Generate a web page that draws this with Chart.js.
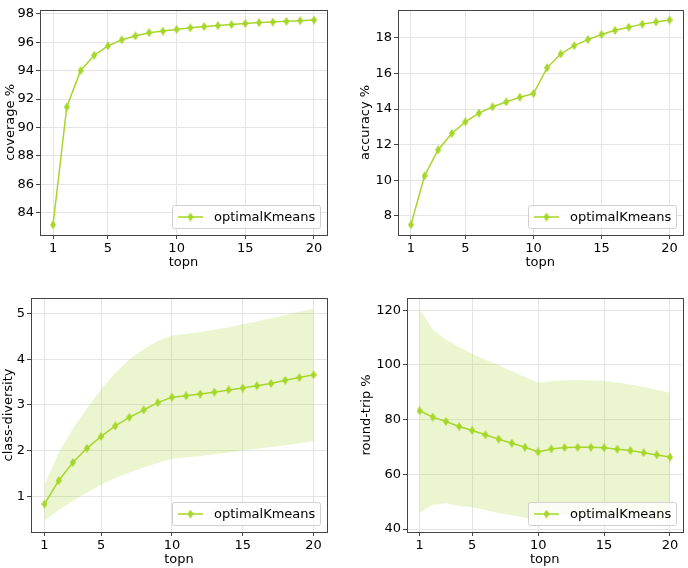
<!DOCTYPE html>
<html>
<head>
<meta charset="utf-8">
<script src="https://cdn.jsdelivr.net/npm/chart.js@4/dist/chart.umd.min.js"></script>
<style>
  html, body { margin: 0; padding: 0; background: #fff; }
  #wrap { position: relative; width: 688px; height: 568px; }
  .cell { position: absolute; width: 344px; height: 284px; }
</style>
</head>
<body>
<div id="wrap">
  <div class="cell" style="left:0;top:0"><canvas id="c1" width="344" height="284"></canvas></div>
  <div class="cell" style="left:344px;top:0"><canvas id="c2" width="344" height="284"></canvas></div>
  <div class="cell" style="left:0;top:284px"><canvas id="c3" width="344" height="284"></canvas></div>
  <div class="cell" style="left:344px;top:284px"><canvas id="c4" width="344" height="284"></canvas></div>
</div>
<script>
// values
const topn = [1, 2, 3, 4, 5, 6, 7, 8, 9, 10, 11, 12, 13, 14, 15, 16, 17, 18, 19, 20];
const xTicks = [1, 5, 10, 15, 20];
const seriesName = 'optimalKmeans';

const coverage = [83.14, 91.44, 94.0, 95.09, 95.75, 96.18, 96.45, 96.68, 96.79, 96.91,
                  97.02, 97.11, 97.18, 97.25, 97.32, 97.39, 97.43, 97.48, 97.52, 97.57];
const coverageTicks = [84, 86, 88, 90, 92, 94, 96, 98];

const accuracy = [7.49, 10.24, 11.71, 12.63, 13.28, 13.77, 14.13, 14.4, 14.67, 14.87,
                  16.32, 17.1, 17.57, 17.91, 18.2, 18.43, 18.61, 18.78, 18.9, 19.01];
const accuracyTicks = [8, 10, 12, 14, 16, 18];

const diversityMean = [0.83, 1.34, 1.74, 2.05, 2.31, 2.54, 2.73, 2.89, 3.05, 3.17,
                       3.2, 3.24, 3.28, 3.33, 3.37, 3.42, 3.47, 3.54, 3.6, 3.66];
const diversityUpper = [1.25, 1.95, 2.48, 2.92, 3.35, 3.7, 4.0, 4.22, 4.4, 4.52,
                        4.56, 4.6, 4.65, 4.7, 4.77, 4.83, 4.9, 4.97, 5.04, 5.11];
const diversityLower = [0.45, 0.7, 0.9, 1.08, 1.25, 1.4, 1.52, 1.63, 1.73, 1.82,
                        1.85, 1.88, 1.92, 1.96, 2.0, 2.04, 2.08, 2.12, 2.16, 2.21];
const diversityTicks = [1, 2, 3, 4, 5];

const roundTripMean = [83.25, 80.93, 79.34, 77.5, 76.04, 74.45, 72.86, 71.4, 69.9, 68.2,
                       69.3, 69.8, 69.9, 69.9, 69.7, 69.2, 68.7, 67.9, 67.1, 66.3];
const roundTripUpper = [120.6, 113.0, 109.3, 106.6, 104.1, 101.9, 99.9, 97.8, 95.6, 93.5,
                        94.0, 94.4, 94.5, 94.4, 94.1, 93.6, 92.9, 91.9, 90.9, 89.8];
const roundTripLower = [45.9, 48.9, 49.4, 48.4, 48.0, 47.0, 45.8, 45.0, 44.2, 42.9,
                        44.6, 45.2, 45.3, 45.4, 45.3, 44.8, 44.5, 43.9, 43.3, 42.8];
const roundTripTicks = [40, 60, 80, 100, 120];

const lineColor = '#a6d628';
const bandColor = 'rgba(166, 214, 40, 0.22)';
const gridColor = '#e4e4e4';
const font = { family: 'DejaVu Sans', size: 13 };

// thin diamond marker, like matplotlib 'd'
function thinDiamond(w, h, color) {
  const c = document.createElement('canvas');
  c.width = w; c.height = h;
  const g = c.getContext('2d');
  g.fillStyle = color;
  g.beginPath();
  g.moveTo(w / 2, 0); g.lineTo(w, h / 2); g.lineTo(w / 2, h); g.lineTo(0, h / 2);
  g.closePath(); g.fill();
  return c;
}
const marker = thinDiamond(6, 9, lineColor);

// frame round the plot area and the legend box in the lower right
const framePlugin = {
  id: 'frame',
  afterDraw(chart) {
    const a = chart.chartArea, ctx = chart.ctx;
    ctx.save();
    ctx.strokeStyle = '#444';
    ctx.lineWidth = 1;
    ctx.strokeRect(Math.round(a.left) + 0.5, Math.round(a.top) + 0.5,
                   Math.round(a.right - a.left), Math.round(a.bottom - a.top));

    const w = 148, h = 23;
    const x = Math.round(a.right - 7 - w), y = Math.round(a.bottom - 7 - h);
    ctx.beginPath();
    ctx.roundRect(x + 0.5, y + 0.5, w, h, 2);
    ctx.fillStyle = 'rgba(255,255,255,0.8)';
    ctx.fill();
    ctx.strokeStyle = '#d0d0d0';
    ctx.stroke();
    ctx.beginPath();
    ctx.moveTo(x + 6, y + h / 2 + 0.5);
    ctx.lineTo(x + 31, y + h / 2 + 0.5);
    ctx.strokeStyle = lineColor;
    ctx.lineWidth = 1.5;
    ctx.stroke();
    ctx.drawImage(marker, x + 18.5 - marker.width / 2, y + h / 2 + 0.5 - marker.height / 2);
    ctx.fillStyle = '#000';
    ctx.font = '13px "DejaVu Sans"';
    ctx.textBaseline = 'middle';
    ctx.fillText(seriesName, x + 42, y + h / 2 + 1);
    ctx.restore();
  }
};

function padRange(arrays) {
  const all = [].concat(...arrays);
  const lo = Math.min(...all), hi = Math.max(...all);
  const m = (hi - lo) * 0.05;
  return [lo - m, hi + m];
}

function makeChart(id, opts) {
  const datasets = [{
    label: seriesName,
    data: topn.map((t, i) => ({ x: t, y: opts.mean[i] })),
    borderColor: lineColor,
    backgroundColor: lineColor,
    borderWidth: 1.5,
    pointStyle: marker,
    pointRadius: 4,
    fill: false,
    tension: 0,
    order: 0
  }];
  if (opts.upper) {
    datasets.push({
      label: 'upper',
      data: topn.map((t, i) => ({ x: t, y: opts.upper[i] })),
      borderWidth: 0, pointRadius: 0, backgroundColor: bandColor,
      fill: '+1', order: 1
    }, {
      label: 'lower',
      data: topn.map((t, i) => ({ x: t, y: opts.lower[i] })),
      borderWidth: 0, pointRadius: 0, backgroundColor: bandColor,
      fill: false, order: 2
    });
  }
  const [ymin, ymax] = padRange(opts.upper ? [opts.mean, opts.upper, opts.lower] : [opts.mean]);
  const [xmin, xmax] = padRange([topn]);

  return new Chart(document.getElementById(id), {
    type: 'line',
    data: { datasets },
    plugins: [framePlugin],
    options: {
      responsive: false,
      animation: false,
      layout: { padding: opts.pad },
      plugins: { legend: { display: false }, tooltip: { enabled: false } },
      scales: {
        x: {
          type: 'linear', min: xmin, max: xmax,
          afterBuildTicks: s => { s.ticks = xTicks.map(v => ({ value: v })); },
          afterFit: s => { s.height = 36; },
          grid: { color: gridColor, tickColor: '#444', tickLength: 4 },
          border: { display: false },
          ticks: { font, color: '#000', padding: 2, maxRotation: 0, autoSkip: false },
          title: { display: true, text: 'topn', font, color: '#000', padding: { top: 0, bottom: 1 } }
        },
        y: {
          type: 'linear', min: ymin, max: ymax,
          afterBuildTicks: s => { s.ticks = opts.ticks.map(v => ({ value: v })); },
          afterFit: s => { s.width = opts.yWidth; },
          grid: { color: gridColor, tickColor: '#444', tickLength: 4 },
          border: { display: false },
          ticks: { font, color: '#000', padding: 2, autoSkip: false },
          title: { display: true, text: opts.label, font, color: '#000', padding: { top: 1, bottom: 0 } }
        }
      }
    }
  });
}

makeChart('c1', { mean: coverage, ticks: coverageTicks, label: 'coverage %',
  yWidth: 38, pad: { left: 2, right: 17, top: 2, bottom: 13 } });
makeChart('c2', { mean: accuracy, ticks: accuracyTicks, label: 'accuracy %',
  yWidth: 41, pad: { left: 13, right: 2, top: 2, bottom: 13 } });
makeChart('c3', { mean: diversityMean, upper: diversityUpper, lower: diversityLower,
  ticks: diversityTicks, label: 'class-diversity',
  yWidth: 31, pad: { left: 0, right: 17, top: 14, bottom: 0 } });
makeChart('c4', { mean: roundTripMean, upper: roundTripUpper, lower: roundTripLower,
  ticks: roundTripTicks, label: 'round-trip %',
  yWidth: 49, pad: { left: 14, right: 2, top: 14, bottom: 0 } });
</script>
</body>
</html>
